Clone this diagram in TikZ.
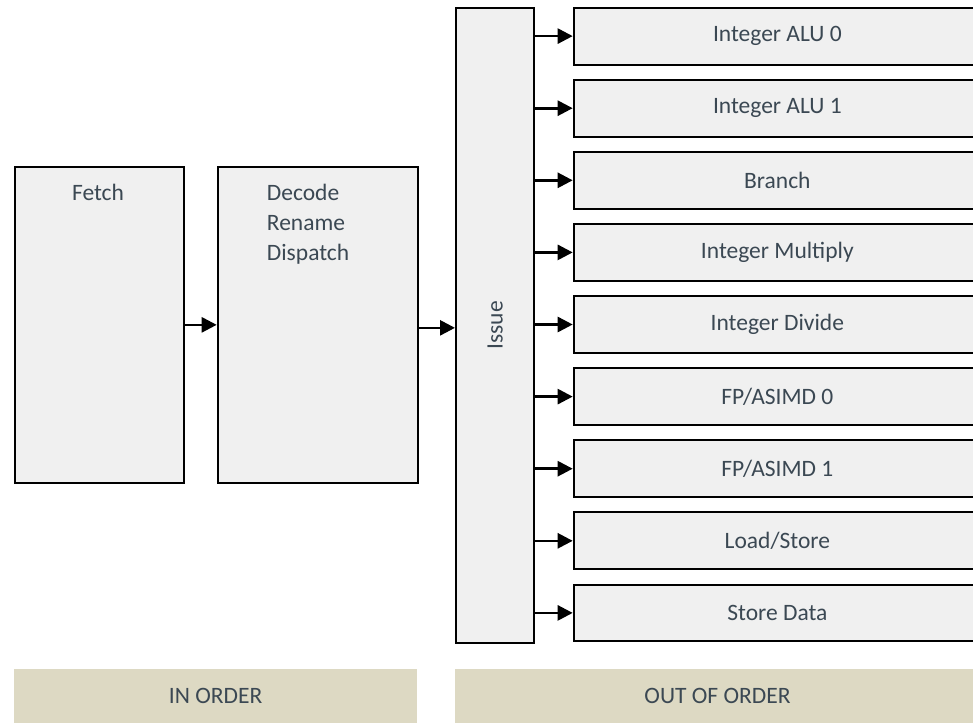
\documentclass[tikz,border=0pt]{standalone}
\usepackage{fontspec}
\setmainfont{Carlito}
\usetikzlibrary{arrows.meta}
\definecolor{boxfill}{HTML}{F0F0F0}
\definecolor{bandc}{HTML}{DDD9C3}
\definecolor{txtc}{HTML}{3B4853}
\begin{document}
\begin{tikzpicture}[x=1pt,y=-1pt,
  stage/.style={draw=black, line width=2pt, fill=boxfill, inner sep=0pt, anchor=north west},
  bandbox/.style={fill=bandc, draw=none, inner sep=0pt, anchor=north west, text=txtc, font=\fontsize{23.5}{30}\selectfont},
  lbl/.style={text=txtc, font=\fontsize{23.5}{30}\selectfont, inner sep=0pt},
  flow/.style={line width=2.6pt, -{Triangle[length=15pt,width=15pt]}},
]
\useasboundingbox (0,0) rectangle (973,723);
\clip (0,0) rectangle (973,723);
\fill[white] (0,0) rectangle (973,723);

% in-order stages
\node[stage, minimum width=168.7pt, minimum height=316.3pt] (fetch) at (14,165.7) {};
\node[lbl, anchor=base] (tfetch) at (98,200) {Fetch};
\node[stage, minimum width=200.7pt, minimum height=316.3pt] (decode) at (216.7,165.7) {};
\node[lbl, anchor=base west] (tdec) at (266.7,200) {Decode};
\node[lbl, anchor=base west] (tren) at (266.7,230.5) {Rename};
\node[lbl, anchor=base west] (tdis) at (266.7,260) {Dispatch};

% issue
\node[stage, minimum width=78.3pt, minimum height=635pt] (issue) at (455,6.7) {};
\node[lbl, rotate=90] (tissue) at (issue.center) {Issue};

% execution units
\foreach \t [count=\i from 0] in {Integer ALU 0, Integer ALU 1, Branch, Integer Multiply, Integer Divide, FP/ASIMD 0, FP/ASIMD 1, Load/Store, Store Data}{
  \node[stage, minimum width=407.3pt, minimum height=56.8pt, text=txtc, font=\fontsize{23.5}{30}\selectfont] (e\i) at (572.7,{6.7+72.1*\i}) {\t};
  \draw[flow] (issue.east |- e\i.west) -- (e\i.west);
}

% flow arrows
\draw[flow] (fetch.east) -- (decode.west);
\draw[flow] ([yshift=-3pt]decode.east) -- ([yshift=-3pt]decode.east -| issue.west);

% bands
\node[bandbox, minimum width=403pt, minimum height=53.7pt] (inorder) at (14,669) {IN ORDER};
\node[bandbox, minimum width=526pt, minimum height=53.7pt] (outorder) at (454.3,669) {OUT OF ORDER};
\end{tikzpicture}
\end{document}
